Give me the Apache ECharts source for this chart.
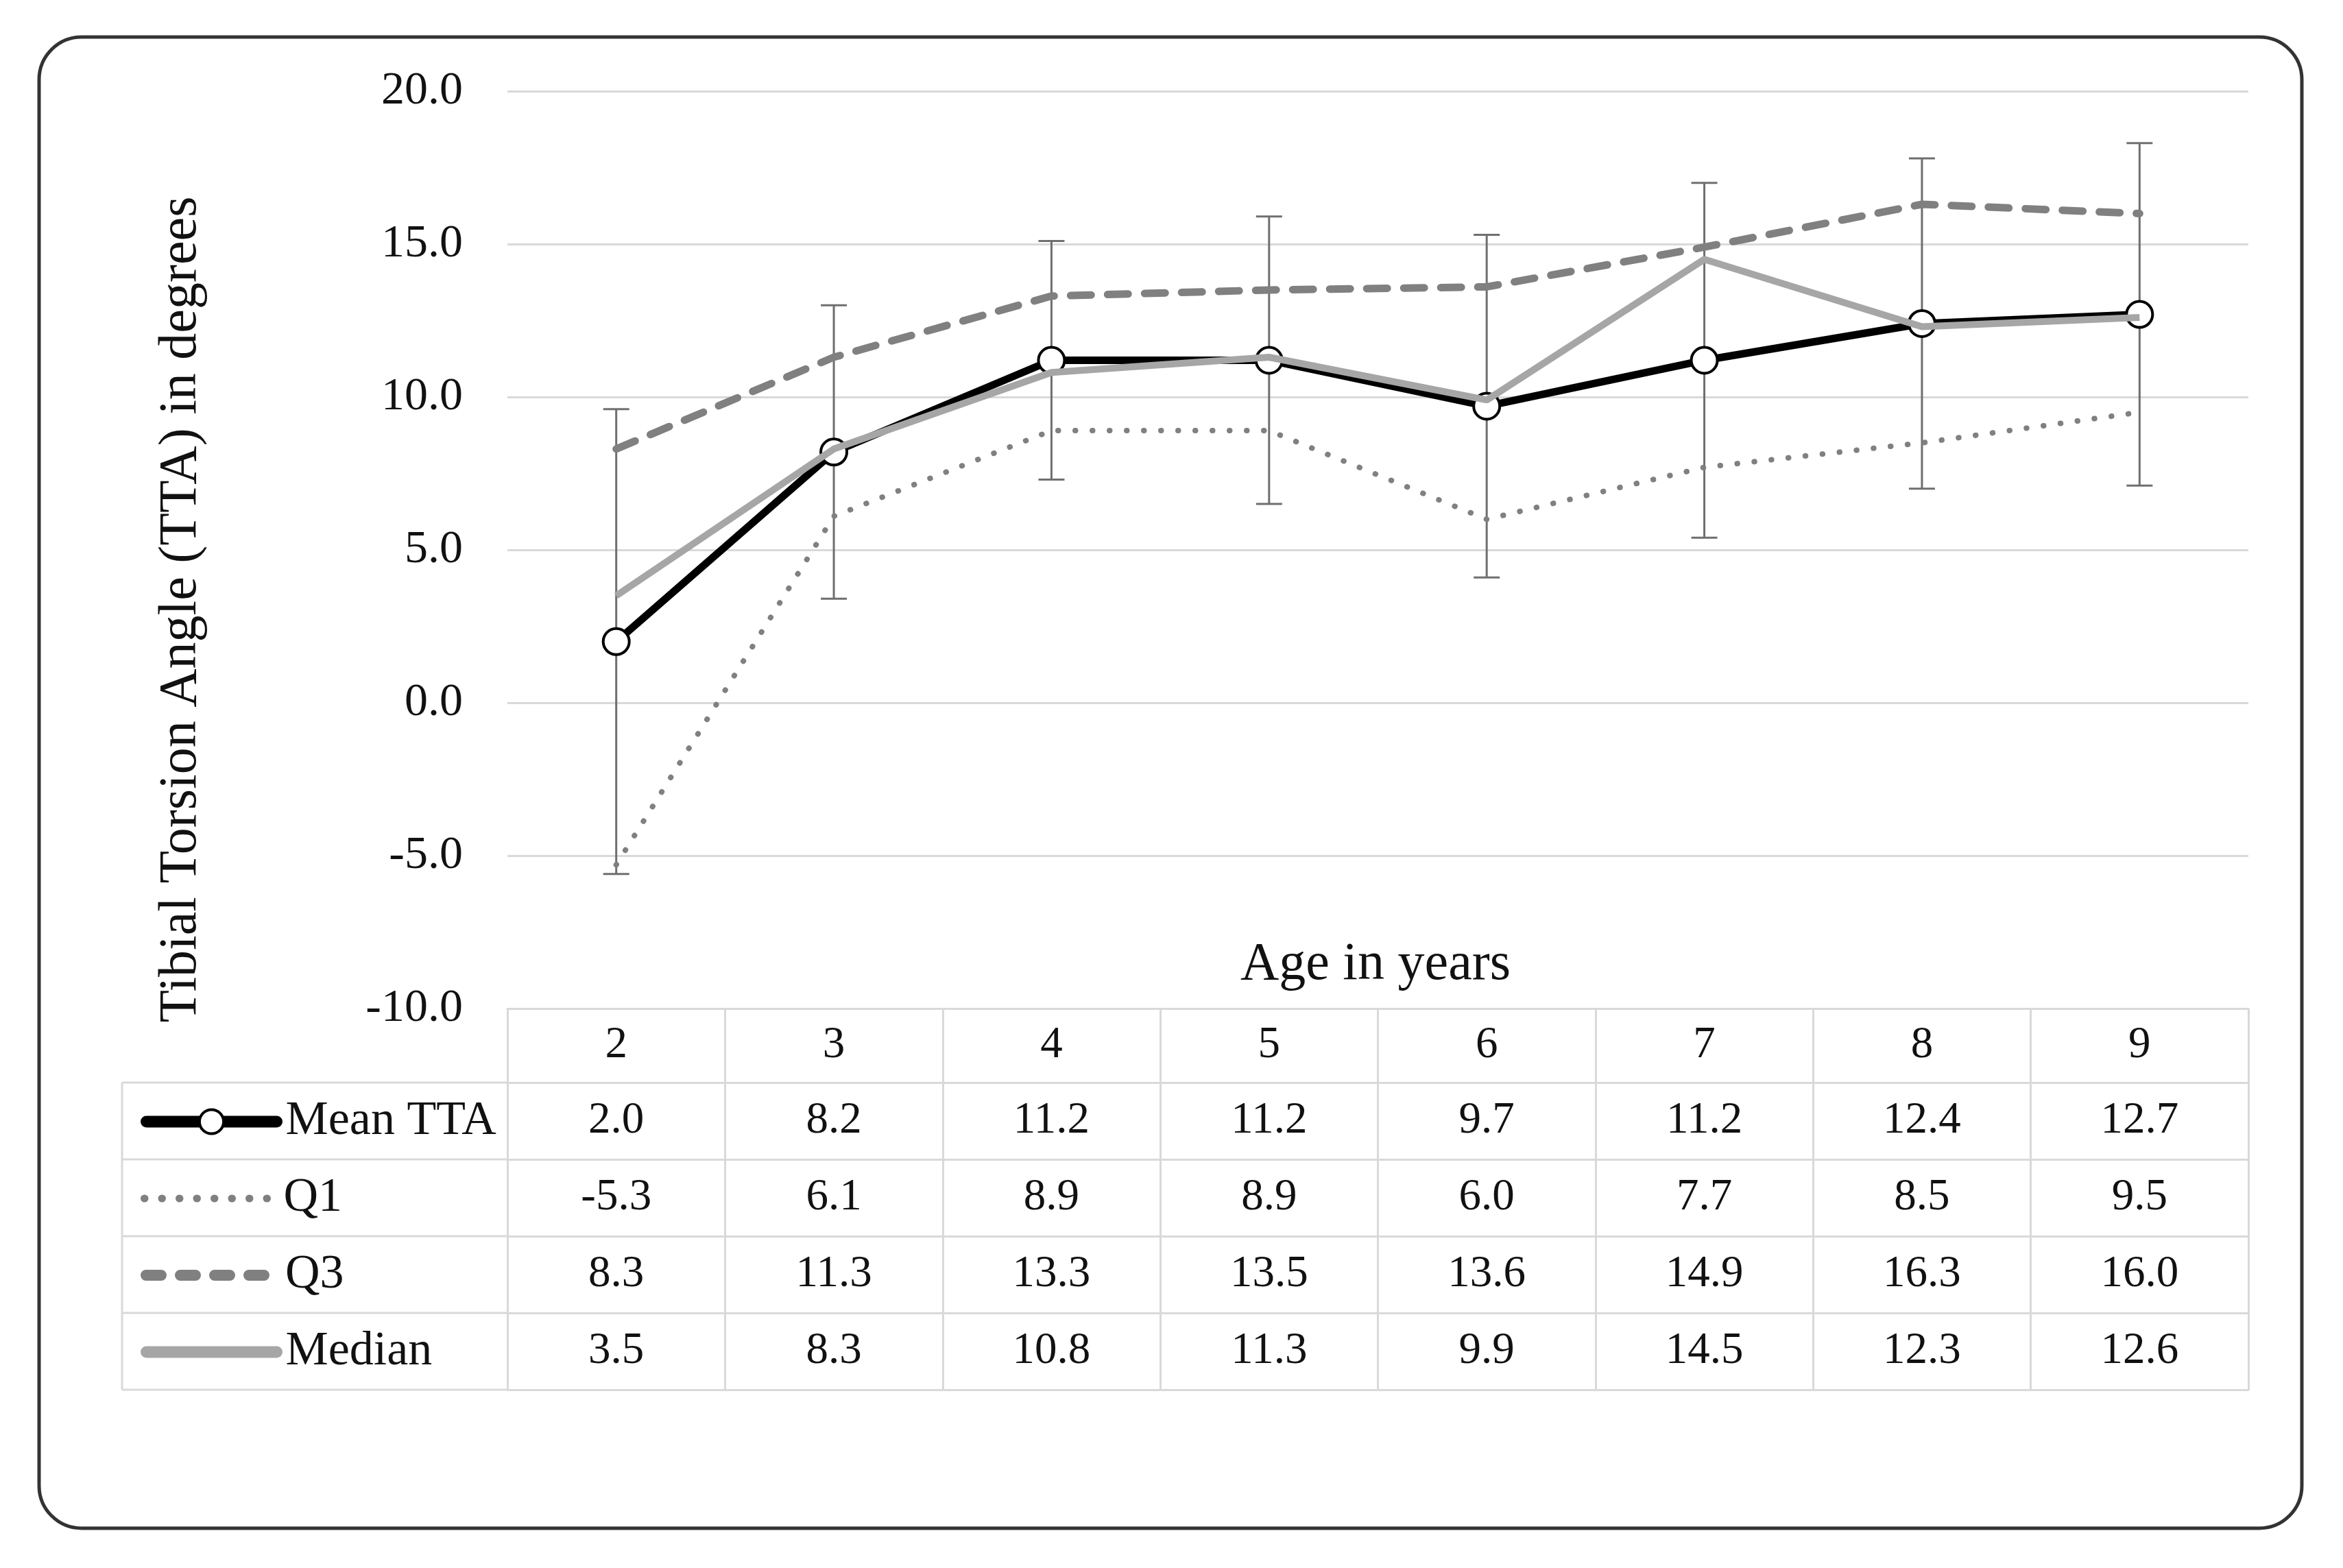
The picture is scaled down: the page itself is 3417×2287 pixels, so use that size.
<!DOCTYPE html>
<html>
<head>
<meta charset="utf-8">
<script src="https://cdn.jsdelivr.net/npm/echarts/dist/echarts.min.js"></script>
<style>
html,body{margin:0;padding:0;background:#fff;}
#chart{width:3417px;height:2287px;}
</style>
</head>
<body>
<div id="chart"></div>
<script>
// ---- data ----
const ages = ['2', '3', '4', '5', '6', '7', '8', '9'];
const meanTTA = [2.0, 8.2, 11.2, 11.2, 9.7, 11.2, 12.4, 12.7];
const q1Vals = [-5.3, 6.1, 8.9, 8.9, 6.0, 7.7, 8.5, 9.5];
const q3Vals = [8.3, 11.3, 13.3, 13.5, 13.6, 14.9, 16.3, 16.0];
const medianVals = [3.5, 8.3, 10.8, 11.3, 9.9, 14.5, 12.3, 12.6];
const meanSD = [7.6, 4.8, 3.9, 4.7, 5.6, 5.8, 5.4, 5.6];
const seriesNames = ['Mean TTA', 'Q1', 'Q3', 'Median'];
const yTitle = 'Tibial Torsion Angle (TTA) in degrees';
const xTitle = 'Age in years';

// ---- layout / style ----
const FONT = 'Liberation Serif';
const gridLeft = 740, gridTop = 133, gridRight = 138, gridBottom = 816;
const axisY = 2287 - gridBottom;       // y of table top
const headH = 108, rowH = 112;
const tableColLeft = 178;
const lineCol = '#d9d9d9';
const numTxt = {fontFamily: FONT, fontSize: 65, color: '#111'};
const tickTxt = {fontFamily: FONT, fontSize: 68, color: '#111'};

const errData = ages.map((a, i) => [i, meanTTA[i] - meanSD[i], meanTTA[i] + meanSD[i]]);
const tableRows = [meanTTA, q1Vals, q3Vals, medianVals];

function rowAxis(values, offset) {
  return {
    type: 'category', data: ages, position: 'bottom', offset: offset, gridIndex: 0,
    axisLine: {show: true, onZero: false, lineStyle: {color: lineCol, width: 3}},
    axisTick: {show: true, inside: false, length: rowH, interval: 0, lineStyle: {color: lineCol, width: 3}},
    axisLabel: {show: true, interval: 0, margin: rowH / 2, verticalAlign: 'middle',
      formatter: (v, i) => values[i].toFixed(1), ...numTxt},
    splitLine: {show: false}
  };
}

const xAxes = [{
  type: 'category', data: ages, position: 'bottom', gridIndex: 0,
  axisLine: {show: true, onZero: false, lineStyle: {color: lineCol, width: 3}},
  axisTick: {show: true, inside: false, length: headH, interval: 0, lineStyle: {color: lineCol, width: 3}},
  axisLabel: {show: true, interval: 0, margin: headH / 2, verticalAlign: 'middle', ...numTxt},
  splitLine: {show: false}
}];
tableRows.forEach((vals, i) => xAxes.push(rowAxis(vals, headH + i * rowH)));
xAxes.push({
  type: 'category', data: ages, position: 'bottom', offset: headH + 4 * rowH, gridIndex: 0,
  axisLine: {show: true, onZero: false, lineStyle: {color: lineCol, width: 3}},
  axisTick: {show: false}, axisLabel: {show: false}, splitLine: {show: false}
});

const hiddenSym = {color: 'rgba(0,0,0,0)', borderColor: 'rgba(0,0,0,0)', borderWidth: 0};
const legendStyles = [
  {lineStyle: {color: '#000', width: 17, type: 'solid', cap: 'round'}, itemStyle: {color: '#fff', borderColor: '#000', borderWidth: 4}},
  {lineStyle: {color: '#808080', width: 11, type: [0.5, 25], cap: 'round'}, itemStyle: hiddenSym},
  {lineStyle: {color: '#808080', width: 16, type: [22, 28], cap: 'round'}, itemStyle: hiddenSym},
  {lineStyle: {color: '#a6a6a6', width: 17, type: 'solid', cap: 'round'}, itemStyle: hiddenSym}
];
const legendH = 44;
const legendShift = -12;
const legends = seriesNames.map((n, i) => ({
  orient: 'vertical', left: 205, top: axisY + headH + i * rowH + (rowH - legendH) / 2 + legendShift,
  itemWidth: 190, itemHeight: legendH, padding: 0, selectedMode: false,
  textStyle: {fontFamily: FONT, fontSize: 70, color: '#111', lineHeight: legendH, padding: [0, 0, 0, 8]},
  data: [Object.assign({name: n}, legendStyles[i])]
}));

const tableBottom = axisY + headH + 4 * rowH;
const graphicEls = [
  {type: 'rect', shape: {x: 57, y: 54, width: 3300, height: 2175, r: 62},
   style: {fill: 'none', stroke: '#333', lineWidth: 5}, z: 0},
  {type: 'text', x: 265, y: 889, rotation: Math.PI / 2,
   style: {text: yTitle, fontFamily: FONT, fontSize: 78, fill: '#111', textAlign: 'center', textVerticalAlign: 'middle'}},
  {type: 'text', x: 2006, y: 1408,
   style: {text: xTitle, fontFamily: FONT, fontSize: 78, fill: '#111', textAlign: 'center', textVerticalAlign: 'middle'}},
  {type: 'line', shape: {x1: tableColLeft, y1: axisY + headH, x2: tableColLeft, y2: tableBottom},
   style: {stroke: lineCol, lineWidth: 3}}
];
for (let i = 0; i <= 4; i++) {
  const yy = axisY + headH + i * rowH;
  graphicEls.push({type: 'line', shape: {x1: tableColLeft, y1: yy, x2: gridLeft, y2: yy},
    style: {stroke: lineCol, lineWidth: 3}});
}

const chart = echarts.init(document.getElementById('chart'), null, {renderer: 'canvas'});
chart.setOption({
  backgroundColor: '#fff',
  animation: false,
  grid: {left: gridLeft, right: gridRight, top: gridTop, bottom: gridBottom, containLabel: false, outerBoundsMode: 'none'},
  xAxis: xAxes,
  yAxis: {
    type: 'value', min: -10, max: 20, interval: 5,
    axisLine: {show: false}, axisTick: {show: false},
    axisLabel: {formatter: v => v.toFixed(1), margin: 65, ...tickTxt},
    splitLine: {show: true, lineStyle: {color: lineCol, width: 3}}
  },
  legend: legends,
  graphic: graphicEls,
  series: [
    {
      type: 'custom', name: 'SD', xAxisIndex: 0, z: 1,
      data: errData, encode: {x: 0, y: [1, 2]},
      renderItem: function (params, api) {
        const x = api.value(0);
        const lo = api.coord([x, api.value(1)]);
        const hi = api.coord([x, api.value(2)]);
        const c = 19;
        const st = {stroke: '#6f6f6f', lineWidth: 3};
        return {type: 'group', children: [
          {type: 'line', shape: {x1: hi[0], y1: hi[1], x2: lo[0], y2: lo[1]}, style: st},
          {type: 'line', shape: {x1: hi[0] - c, y1: hi[1], x2: hi[0] + c, y2: hi[1]}, style: st},
          {type: 'line', shape: {x1: lo[0] - c, y1: lo[1], x2: lo[0] + c, y2: lo[1]}, style: st}
        ]};
      }
    },
    {
      type: 'line', name: 'Mean TTA', data: meanTTA, z: 3,
      symbol: 'circle', symbolSize: 38,
      lineStyle: {color: '#000', width: 11},
      itemStyle: {color: '#fff', borderColor: '#000', borderWidth: 4}
    },
    {
      type: 'line', name: 'Q1', data: q1Vals, z: 4, symbol: 'none',
      lineStyle: {color: '#808080', width: 8, type: [0.5, 24.5], cap: 'round'},
      itemStyle: {color: '#808080'}
    },
    {
      type: 'line', name: 'Q3', data: q3Vals, z: 4, symbol: 'none',
      lineStyle: {color: '#808080', width: 11, type: [30, 24], cap: 'round'},
      itemStyle: {color: '#808080'}
    },
    {
      type: 'line', name: 'Median', data: medianVals, z: 5, symbol: 'none',
      lineStyle: {color: '#a6a6a6', width: 10},
      itemStyle: {color: '#a6a6a6'}
    }
  ]
});
</script>
</body>
</html>
